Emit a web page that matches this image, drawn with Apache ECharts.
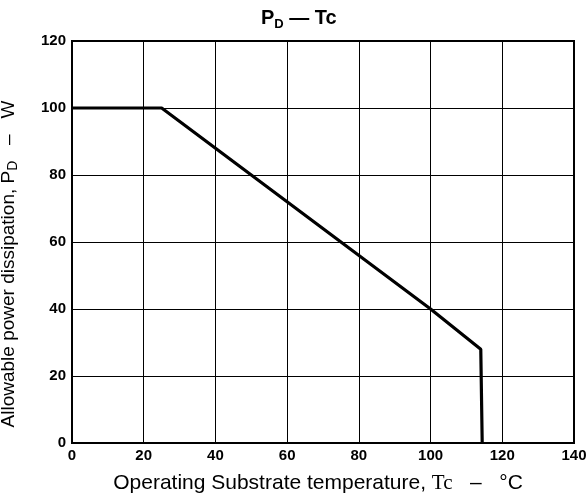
<!DOCTYPE html>
<html>
<head>
<meta charset="utf-8">
<script src="https://cdn.jsdelivr.net/npm/echarts@6/dist/echarts.min.js"></script>
<style>html,body{margin:0;padding:0;background:#fff}#c{width:587px;height:501px}</style>
</head>
<body>
<div id="c"></div>
<script>
const temps = [0, 25, 100, 114, 114.4];
const power = [100, 100, 40, 28, 0];
const xTicks = [0, 20, 40, 60, 80, 100, 120, 140];
const yTicks = [0, 20, 40, 60, 80, 100, 120];

const chart = echarts.init(document.getElementById('c'), null, {renderer: 'canvas'});
const sans = 'Liberation Sans, Arial, sans-serif';
const serif = 'Liberation Serif, Times New Roman, serif';
chart.setOption({
  animation: false,
  backgroundColor: '#fff',
  title: {
    text: '{p|P}{sub|D}{p| — Tc}',
    left: 256,
    top: 1,
    textStyle: {
      rich: {
        p: {fontFamily: sans, fontWeight: 'bold', fontSize: 20, color: '#000'},
        sub: {fontFamily: sans, fontWeight: 'bold', fontSize: 13, color: '#000', padding: [12, 0, 0, 0]}
      }
    }
  },
  grid: {left: 72, right: 13, top: 41, bottom: 58, show: true, borderColor: '#000', borderWidth: 2,
    containLabel: false, outerBoundsMode: 'none'},
  xAxis: {
    type: 'value', min: 0, max: 140, interval: 20,
    nameLocation: 'middle', nameGap: 30,
    name: '{t|Operating Substrate temperature, }{s|Tc}{t|   –   °C}',
    nameTextStyle: {padding: [0, 10, 0, 0], rich: {
      t: {fontFamily: sans, fontSize: 21, color: '#000'},
      s: {fontFamily: serif, fontSize: 21, color: '#000'}
    }},
    axisLine: {show: true, lineStyle: {color: '#000', width: 2}},
    axisTick: {show: false},
    axisLabel: {color: '#000', fontFamily: sans, fontWeight: 'bold', fontSize: 15, margin: 5,
      formatter: v => xTicks.includes(v) ? String(v) : ''},
    splitLine: {show: true, lineStyle: {color: '#000', width: 1}}
  },
  yAxis: {
    type: 'value', min: 0, max: 120, interval: 20,
    nameLocation: 'middle', nameGap: 52, nameRotate: 90,
    name: '{t|Allowable power dissipation, P}{sub|D}{t|   –   W}',
    nameTextStyle: {padding: [0, 44, 0, 0], rich: {
      t: {fontFamily: sans, fontSize: 19, color: '#000'},
      sub: {fontFamily: sans, fontSize: 14, color: '#000', padding: [9, 0, 0, 0]}
    }},
    axisLine: {show: true, lineStyle: {color: '#000', width: 2}},
    axisTick: {show: false},
    axisLabel: {color: '#000', fontFamily: sans, fontWeight: 'bold', fontSize: 15, margin: 6,
      formatter: v => yTicks.includes(v) ? String(v) : ''},
    splitLine: {show: true, lineStyle: {color: '#000', width: 1}}
  },
  series: [{
    type: 'line',
    data: temps.map((t, i) => [t, power[i]]),
    symbol: 'none',
    lineStyle: {color: '#000', width: 3.2},
    z: 5
  }]
});
</script>
</body>
</html>
